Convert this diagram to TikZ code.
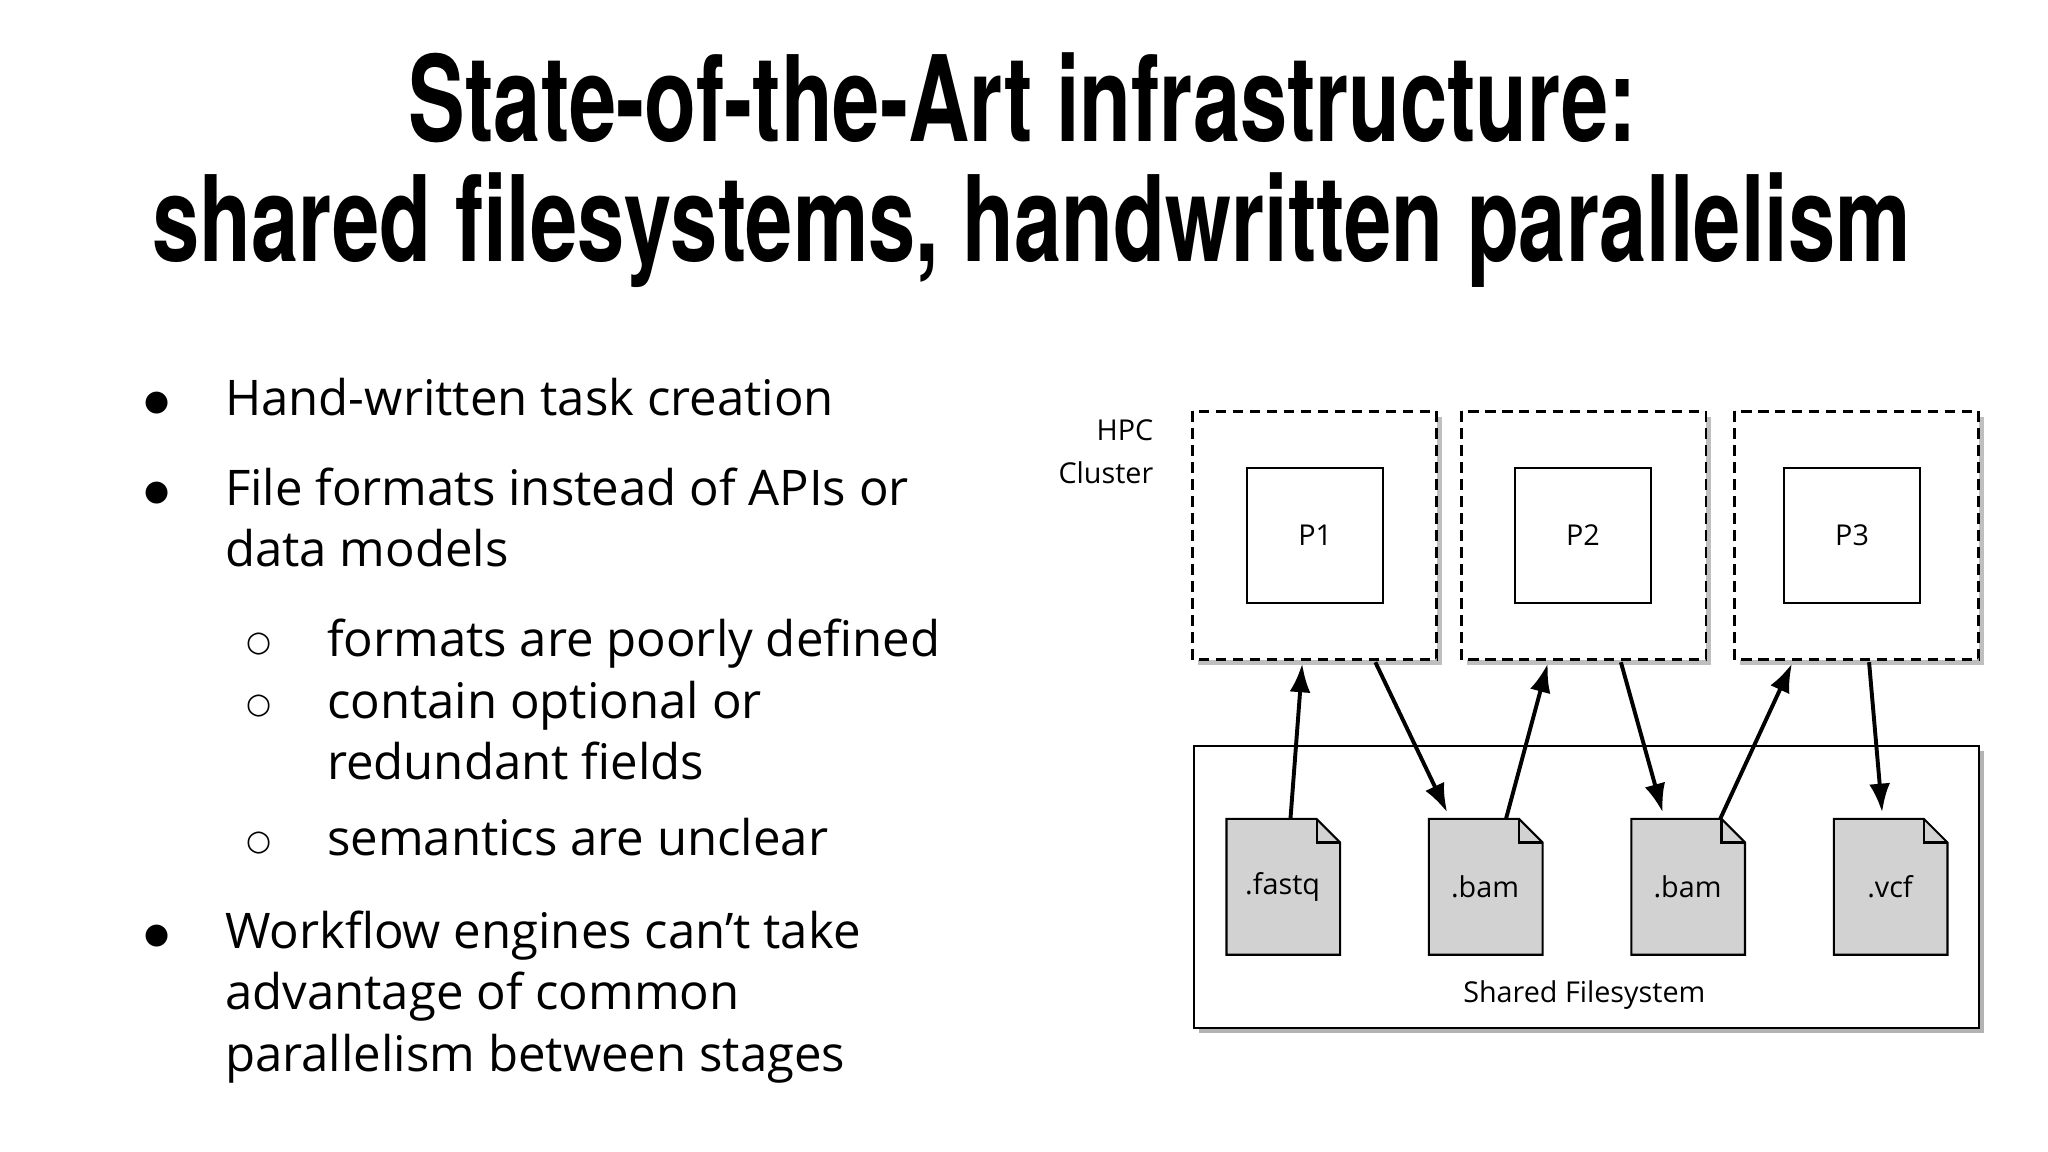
\documentclass[tikz,border=0pt]{standalone}
\usepackage{fontspec}
\setmainfont{Open Sans}
\newfontfamily\titlefont{TeX Gyre Heros}
\newfontfamily\dvs{DejaVu Sans}
\usetikzlibrary{shadows,arrows.meta}
\begin{document}
\begin{tikzpicture}[x=0.5pt,y=-0.5pt,
  cl/.style={draw,dash pattern=on 4pt off 2.5pt,line width=1pt,fill=white,drop shadow={shadow xshift=2pt,shadow yshift=-2pt,opacity=0.5}},
  pbox/.style={draw,thick,fill=white,font=\fontsize{11}{13}\selectfont},
  fil/.style={draw,thick,fill=gray!35},
  arr/.style={-{Latex[length=11pt,width=8pt]},line width=1.5pt},
  bul/.style={anchor=base west,inner sep=0,font=\fontsize{18.8}{25}\selectfont,align=left},
  dot/.style={anchor=base west,inner sep=0,font=\dvs\fontsize{11}{13}\selectfont}]
\useasboundingbox (0,0) rectangle (1568,882);
% title
\node (t1) at (783,108) [anchor=base,inner sep=0]{\resizebox{470pt}{34pt}{\titlefont\bfseries State-of-the-Art infrastructure:}};
\node (t2) at (790,200) [anchor=base,inner sep=0]{\resizebox{673pt}{34pt}{\titlefont\bfseries shared filesystems, handwritten parallelism}};
% bullets
\foreach \y/\t in {318/Hand-written task creation,387/File formats instead of APIs or,726/Workflow engines can’t take}{\node[dot] at (110,\y-4) {●}; \node[bul] at (172,\y){\t};}
\node[bul] at (172,434) {data models};
\node[bul] at (172,773) {advantage of common};
\node[bul] at (172,820) {parallelism between stages};
\foreach \y/\t in {503/formats are poorly defined,550/contain optional or,655/semantics are unclear}{\node[dot] at (188,\y-4) {○}; \node[bul] at (250,\y){\t};}
\node[bul] at (250,597) {redundant fields};
% diagram
\node[anchor=base east,font=\fontsize{11}{13}\selectfont] (h1) at (890,337) {HPC};
\node[anchor=base east,font=\fontsize{11}{13}\selectfont] (h2) at (890,370) {Cluster};
\draw[cl] (913,315) rectangle (1100,505);
\draw[cl] (1119,315) rectangle (1306,505);
\draw[cl] (1328,315) rectangle (1515,505);
\node[pbox,minimum size=52pt] (p1) at (1007,410) {P1};
\node[pbox,minimum size=52pt] (p2) at (1212,410) {P2};
\node[pbox,minimum size=52pt] (p3) at (1418,410) {P3};
\draw[thick,fill=white,drop shadow={shadow xshift=2pt,shadow yshift=-2pt,opacity=0.6}] (914,571) rectangle (1515,787);
\node[font=\fontsize{11}{13}\selectfont] (sf) at (1213,762) {Shared Filesystem};
\foreach \x/\n/\t in {939/f1/.fastq,1094/f2/.bam,1249/f3/.bam,1404/f4/.vcf}{
  \draw[fil] (\x,627) -- (\x+69,627) -- (\x+87,645) -- (\x+87,731) -- (\x,731) -- cycle;
  \draw[thick] (\x+69,627) -- (\x+69,645) -- (\x+87,645);
  \node[font=\fontsize{11}{13}\selectfont] (\n) at (\x+43,679) {\t};}
\coordinate (a1) at (988,627); \coordinate (b1) at (997,508);
\coordinate (a2) at (1053,507); \coordinate (b2) at (1108,622);
\coordinate (a3) at (1153,627); \coordinate (b3) at (1185,508);
\coordinate (a4) at (1241,507); \coordinate (b4) at (1273,622);
\coordinate (a5) at (1317,627); \coordinate (b5) at (1372,508);
\coordinate (a6) at (1431,507); \coordinate (b6) at (1441,622);
\foreach \i in {1,...,6}{\draw[arr] (a\i) -- (b\i);}
\end{tikzpicture}
\end{document}
